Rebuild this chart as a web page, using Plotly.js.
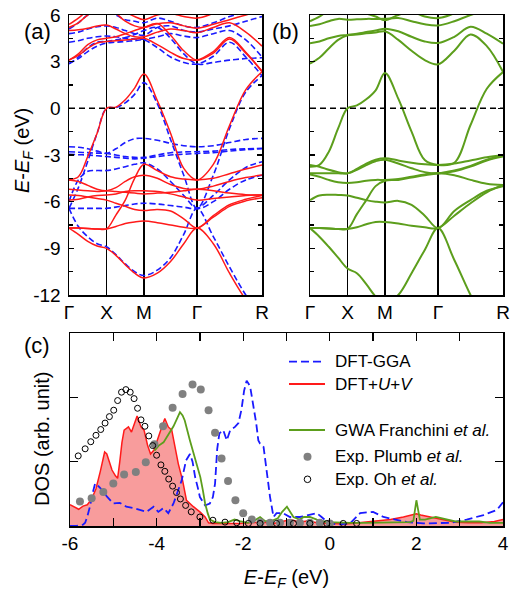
<!DOCTYPE html>
<html><head><meta charset="utf-8">
<script src="https://cdn.plot.ly/plotly-3.0.1.min.js"></script>
<style>html,body{margin:0;padding:0;background:#fff}#plot{width:511px;height:593px}</style>
</head><body><div id="plot"></div>
<script>
// ---------- band structure data ----------
const kPath = [0, 0.125, 0.25, 0.375, 0.5, 0.625, 0.75, 0.875, 1.0, 1.177, 1.354, 1.53, 1.707, 1.924, 2.14, 2.357, 2.573];
const kTickVals = [0, 0.5, 1.0, 1.707, 2.573];
const kTickText = ['Γ', 'X', 'M', 'Γ', 'R'];
const eTickVals = [-12, -9, -6, -3, 0, 3, 6];
const eTickText = ['-12', '-9', '-6', '-3', '0', '3', '6'];
const fermiLevel = 0;

const redBands = [
  [-4.6, -4.4, -3.1, -1.6, 0, 0.08, 0.55, 1.3, 2.2, 0.5, -1.6, -3.86, -4.6, -3.6, -1.1, 1.2, 2.35],
  [-7.7, -7.7, -7.72, -7.75, -7.75, -6.86, -5.9, -4.5, -3.6, -4.0, -4.4, -4.55, -4.6, -4.5, -4.2, -3.9, -3.64],
  [-4.6, -4.7, -4.95, -5.2, -5.3, -5.1, -4.7, -4.4, -4.3, -4.5, -4.9, -5.15, -5.2, -5.0, -4.7, -4.45, -4.29],
  [-5.2, -5.25, -5.3, -5.35, -5.3, -5.35, -5.4, -5.45, -5.5, -5.45, -5.4, -5.3, -5.2, -5.3, -5.45, -5.55, -5.57],
  [-5.57, -5.6, -5.7, -5.8, -5.9, -6.1, -6.3, -6.5, -6.57, -6.5, -6.6, -7.1, -7.7, -6.9, -6.2, -5.85, -5.6],
  [-5.9, -5.85, -5.7, -5.6, -5.57, -5.5, -5.35, -5.3, -5.3, -5.35, -5.5, -5.7, -5.9, -5.8, -5.7, -5.6, -5.57],
  [-7.7, -7.7, -7.72, -7.75, -7.75, -7.6, -7.4, -7.3, -7.25, -7.35, -7.5, -7.65, -7.7, -7.0, -6.3, -5.95, -5.75],
  [-7.7, -8.1, -8.55, -8.85, -9.0, -9.45, -10.05, -10.6, -10.9, -10.6, -9.85, -8.7, -7.7, -8.7, -10.6, -12.3, -13.6],
  [3.1, 3.4, 3.85, 4.2, 4.3, 4.35, 4.4, 4.45, 4.5, 4.1, 3.6, 3.2, 3.1, 3.65, 4.55, 3.6, 2.35],
  [3.1, 3.5, 4.1, 4.4, 4.5, 4.6, 4.8, 5.0, 5.2, 5.45, 4.7, 3.7, 3.1, 3.55, 4.45, 3.55, 2.4],
  [5.0, 5.05, 5.15, 5.3, 5.35, 5.1, 4.8, 4.6, 4.6, 4.9, 5.1, 5.0, 4.86, 5.2, 5.5, 4.9, 4.0],
  [5.2, 5.5, 6.0, 6.3, 6.4, 6.1, 5.6, 5.3, 5.2, 5.44, 5.5, 5.3, 5.15, 5.4, 5.7, 6.0, 6.3],
  [5.4, 5.8, 6.3, 6.6, 6.7, 6.5, 6.2, 5.9, 5.7, 6.0, 6.1, 5.9, 5.8, 6.1, 6.5, 6.8, 7.0]
];
const blueBands = [
  [-6.43, -5.1, -3.4, -1.6, 0, 0.05, 0.35, 0.9, 1.65, 0.3, -2.0, -4.3, -6.43, -4.3, -1.3, 1.05, 2.1],
  [-2.47, -2.5, -2.6, -2.75, -2.89, -2.6, -2.2, -1.95, -1.93, -2.05, -2.25, -2.4, -2.47, -2.4, -2.2, -2.0, -1.93],
  [-2.79, -2.82, -2.85, -2.88, -2.9, -3.0, -3.1, -3.15, -3.15, -3.0, -2.85, -2.8, -2.79, -2.75, -2.65, -2.6, -2.57],
  [-2.95, -2.98, -3.0, -3.05, -3.1, -3.15, -3.2, -3.25, -3.2, -3.1, -3.0, -2.95, -2.9, -2.85, -2.75, -2.65, -2.6],
  [-6.43, -6.43, -6.43, -6.43, -6.43, -6.35, -6.25, -6.15, -6.1, -6.15, -6.25, -6.35, -6.43, -5.6, -4.6, -3.8, -3.43],
  [-6.0, -4.6, -4.05, -4.0, -4.0, -3.9, -3.75, -3.6, -3.5, -3.9, -4.7, -5.6, -6.43, -6.0, -5.2, -4.6, -4.3],
  [-6.43, -7.6, -8.25, -8.7, -8.9, -9.4, -10.0, -10.5, -10.75, -10.4, -9.6, -8.1, -6.43, -8.25, -10.2, -12.0, -13.4],
  [2.87, 3.2, 3.65, 4.0, 4.2, 4.25, 4.3, 4.35, 4.4, 3.9, 3.3, 2.95, 2.85, 3.35, 4.25, 3.3, 2.1],
  [2.87, 3.3, 3.9, 4.25, 4.3, 4.4, 4.55, 4.75, 5.0, 5.2, 4.5, 3.5, 2.85, 2.95, 3.1, 3.2, 3.25],
  [4.25, 4.35, 4.5, 4.6, 4.65, 4.6, 4.5, 4.45, 4.45, 4.6, 4.8, 4.65, 4.55, 4.8, 5.0, 4.4, 3.3],
  [4.8, 4.9, 5.1, 5.25, 5.3, 5.2, 5.0, 4.8, 4.7, 5.2, 5.3, 5.0, 4.9, 5.1, 5.3, 5.6, 5.9],
  [5.1, 5.5, 6.0, 6.2, 6.3, 6.0, 5.7, 5.6, 5.5, 5.8, 5.6, 5.3, 5.2, 5.5, 5.9, 6.2, 6.5]
];
const greenBands = [
  [-3.75, -3.64, -2.8, -1.29, 0, 0.19, 0.58, 1.16, 2.27, 0.62, -1.5, -3.32, -3.64, -3.5, -1.07, 1.26, 2.33],
  [-3.64, -3.75, -3.95, -4.1, -4.18, -3.9, -3.55, -3.3, -3.21, -3.35, -3.5, -3.6, -3.64, -3.55, -3.35, -3.15, -3.0],
  [-4.18, -4.18, -4.18, -4.18, -4.18, -3.95, -3.65, -3.4, -3.3, -3.55, -3.85, -4.1, -4.18, -4.05, -3.75, -3.35, -3.1],
  [-4.25, -4.4, -4.6, -4.75, -4.8, -4.75, -4.65, -4.6, -4.6, -4.55, -4.4, -4.25, -4.18, -4.3, -4.6, -4.85, -4.93],
  [-7.7, -7.7, -7.72, -7.75, -7.75, -6.8, -5.9, -5.0, -4.65, -4.6, -4.45, -4.3, -4.18, -4.0, -3.7, -3.3, -3.05],
  [-5.9, -5.6, -5.55, -5.57, -5.6, -5.75, -5.9, -6.0, -6.05, -5.95, -6.2, -6.9, -7.7, -6.6, -5.9, -5.3, -5.0],
  [-7.7, -7.7, -7.72, -7.75, -7.75, -7.65, -7.45, -7.3, -7.3, -7.4, -7.55, -7.65, -7.7, -6.9, -6.1, -5.4, -4.93],
  [-7.7, -8.25, -8.9, -9.6, -10.3, -10.6, -11.3, -12.1, -12.6, -12.0, -10.6, -9.1, -7.7, -9.75, -12.0, -14.0, -15.0],
  [2.87, 3.25, 3.85, 4.4, 4.69, 4.75, 4.82, 4.88, 4.95, 4.4, 3.7, 3.1, 2.83, 3.7, 4.75, 4.0, 2.35],
  [4.19, 4.3, 4.5, 4.65, 4.72, 4.8, 4.9, 5.0, 5.12, 4.95, 4.6, 4.3, 4.2, 4.6, 5.25, 4.8, 4.15],
  [5.29, 5.4, 5.6, 5.75, 5.7, 5.72, 5.75, 5.75, 5.76, 5.8, 5.6, 5.4, 5.33, 5.6, 6.0, 6.3, 6.5],
  [5.6, 5.9, 6.3, 6.6, 6.7, 6.4, 6.1, 5.9, 5.67, 6.0, 6.2, 5.9, 5.8, 6.1, 6.5, 6.8, 7.0]
];

// ---------- DOS data ----------
const ggaE = [-6.0, -5.85, -5.7, -5.65, -5.6, -5.54, -5.48, -5.42, -5.36, -5.3, -5.15, -5.0, -4.85, -4.7, -4.54, -4.38, -4.23, -4.07, -3.96, -3.84, -3.73, -3.61, -3.5, -3.42, -3.32, -3.23, -3.17, -3.11, -3.05, -3.0, -2.88, -2.77, -2.7, -2.65, -2.6, -2.55, -2.46, -2.38, -2.3, -2.19, -2.11, -2.04, -1.98, -1.92, -1.84, -1.76, -1.7, -1.65, -1.61, -1.53, -1.46, -1.38, -1.3, -1.23, -1.08, -0.92, -0.69, -0.46, -0.3, -0.19, -0.07, 0.16, 0.47, 0.7, 1.0, 1.24, 1.55, 1.78, 2.16, 2.78, 3.16, 3.55, 3.86, 4.0];
const ggaDOS = [0, 0, 0.02, 0.05, 0.15, 0.3, 0.5, 0.66, 0.63, 0.59, 0.46, 0.35, 0.36, 0.3, 0.28, 0.25, 0.22, 0.3, 0.22, 0.28, 0.2, 0.35, 0.55, 0.71, 1.02, 1.12, 1.0, 0.76, 0.6, 0.45, 0.32, 0.35, 0.45, 0.66, 1.2, 1.44, 1.49, 1.33, 1.49, 1.54, 1.6, 1.81, 2.1, 2.26, 2.17, 1.86, 1.6, 1.33, 1.28, 1.23, 0.87, 0.45, 0.14, 0.2, 0.2, 0.14, 0.14, 0.17, 0.2, 0.14, 0.07, 0.02, 0.04, 0.2, 0.22, 0.14, 0.1, 0.06, 0.04, 0.05, 0.1, 0.17, 0.25, 0.37];

const uvE = [-6.0, -5.9, -5.8, -5.7, -5.6, -5.5, -5.4, -5.3, -5.2, -5.15, -5.1, -5.03, -4.95, -4.9, -4.85, -4.8, -4.75, -4.65, -4.58, -4.5, -4.45, -4.36, -4.29, -4.21, -4.14, -4.06, -3.99, -3.88, -3.81, -3.73, -3.65, -3.58, -3.5, -3.4, -3.31, -3.15, -3.0, -2.88, -2.8, -2.7, -2.5, -2.3, -2.1, -1.9, -1.7, -1.5, -1.3, -1.1, -0.9, -0.7, -0.5, -0.3, -0.1, 0.1, 0.3, 0.5, 0.8, 1.1, 1.4, 1.7, 1.9, 2.0, 2.1, 2.3, 2.5, 2.7, 2.9, 3.2, 3.5, 3.8, 4.0];
const uvDOS = [0.33, 0.30, 0.26, 0.31, 0.33, 0.42, 0.58, 0.85, 1.15, 1.12, 1.0, 0.87, 0.78, 0.74, 1.0, 1.3, 1.49, 1.54, 1.46, 1.6, 1.71, 1.54, 1.49, 1.26, 1.12, 1.18, 1.33, 1.54, 1.67, 1.54, 1.49, 1.23, 0.97, 0.71, 0.4, 0.3, 0.22, 0.14, 0.05, 0.04, 0.04, 0.03, 0.04, 0.05, 0.06, 0.06, 0.04, 0.07, 0.1, 0.06, 0.08, 0.05, 0.04, 0.03, 0.03, 0.04, 0.06, 0.08, 0.1, 0.14, 0.17, 0.19, 0.17, 0.14, 0.12, 0.08, 0.06, 0.05, 0.05, 0.07, 0.1];

const gwE = [-4.05, -3.95, -3.84, -3.72, -3.61, -3.52, -3.46, -3.4, -3.35, -3.23, -3.15, -3.07, -2.99, -2.93, -2.88, -2.82, -2.77, -2.65, -2.5, -2.35, -2.2, -2.05, -1.9, -1.75, -1.61, -1.5, -1.38, -1.2, -1.1, -0.99, -0.9, -0.84, -0.7, -0.6, -0.46, -0.3, -0.07, 0.2, 0.5, 0.8, 1.1, 1.4, 1.7, 1.85, 1.93, 2.0, 2.08, 2.2, 2.45, 2.7, 2.9, 3.2, 3.45, 3.7, 4.0];
const gwDOS = [1.17, 1.25, 1.3, 1.43, 1.55, 1.68, 1.77, 1.72, 1.64, 1.33, 1.15, 0.97, 0.76, 0.55, 0.35, 0.2, 0.1, 0.06, 0.05, 0.06, 0.1, 0.07, 0.05, 0.08, 0.14, 0.08, 0.07, 0.12, 0.22, 0.3, 0.2, 0.14, 0.1, 0.14, 0.14, 0.1, 0.06, 0.05, 0.05, 0.05, 0.05, 0.05, 0.06, 0.06, 0.08, 0.4, 0.1, 0.1, 0.14, 0.1, 0.07, 0.07, 0.07, 0.05, 0.05];

const plumbE = [-5.77, -5.5, -5.23, -5.0, -4.75, -4.48, -4.25, -4.05, -3.85, -3.63, -3.4, -3.17, -2.98, -2.8, -2.65, -2.5, -2.35, -2.18, -2.0, -1.8, -1.6, -1.38, -1.15, -0.92, -0.69, -0.46, -0.23, 0.0];
const plumbDOS = [0.38, 0.43, 0.53, 0.66, 0.8, 0.84, 0.99, 1.27, 1.55, 1.84, 2.05, 2.2, 2.12, 1.8, 1.45, 1.05, 0.7, 0.4, 0.2, 0.1, 0.06, 0.05, 0.05, 0.05, 0.05, 0.05, 0.05, 0.04];

const ohE = [-5.81, -5.65, -5.52, -5.4, -5.29, -5.19, -5.09, -4.99, -4.9, -4.81, -4.71, -4.61, -4.52, -4.44, -4.36, -4.27, -4.18, -4.09, -4.0, -3.9, -3.81, -3.72, -3.63, -3.54, -3.45, -3.33, -3.2, -3.0, -2.7, -2.42, -2.15, -1.88, -1.61, -1.23, -0.84, -0.46, -0.07, 0.31, 0.62];
const ohDOS = [1.09, 1.2, 1.31, 1.41, 1.5, 1.6, 1.7, 1.8, 1.95, 2.08, 2.12, 2.08, 1.98, 1.83, 1.65, 1.55, 1.4, 1.25, 1.1, 0.95, 0.85, 0.73, 0.62, 0.52, 0.42, 0.32, 0.22, 0.14, 0.09, 0.06, 0.05, 0.04, 0.04, 0.04, 0.04, 0.04, 0.04, 0.04, 0.04];

const dosTickVals = [-6, -4, -2, 0, 2, 4];
const dosTickText = ['-6', '-4', '-2', '0', '2', '4'];

const legendLabels = ['DFT-GGA', 'DFT+<i>U</i>+<i>V</i>', 'GWA Franchini <i>et al.</i>', 'Exp. Plumb <i>et al.</i>', 'Exp. Oh <i>et al.</i>'];
const panelLabels = ['(a)', '(b)', '(c)'];
const energyTitle = '<i>E</i>-<i>E</i><sub><i>F</i></sub> (eV)';
const dosTitle = 'DOS (arb. unit)';

// ---------- styles ----------
const RED = '#ff1a1a', BLUE = '#1a1aff', GREEN = '#5c9e1c', GRAY = '#808080', PINK = '#f89c9c';
const FONT = 'Arial, "Liberation Sans", sans-serif';

const traces = [];
blueBands.forEach(b => traces.push({x: kPath, y: b, xaxis: 'x', yaxis: 'y', mode: 'lines', hoverinfo: 'skip',
  line: {color: BLUE, width: 1.6, dash: '6px,3px', shape: 'spline', smoothing: 1}}));
redBands.forEach(b => traces.push({x: kPath, y: b, xaxis: 'x', yaxis: 'y', mode: 'lines', hoverinfo: 'skip',
  line: {color: RED, width: 1.5, shape: 'spline', smoothing: 1}}));
greenBands.forEach(b => traces.push({x: kPath, y: b, xaxis: 'x2', yaxis: 'y2', mode: 'lines', hoverinfo: 'skip',
  line: {color: GREEN, width: 2, shape: 'spline', smoothing: 1}}));

// DOS
traces.push({x: uvE, y: uvDOS, xaxis: 'x3', yaxis: 'y3', mode: 'lines', fill: 'tozeroy', fillcolor: PINK,
  line: {color: RED, width: 1.5}, hoverinfo: 'skip'});
traces.push({x: ggaE, y: ggaDOS, xaxis: 'x3', yaxis: 'y3', mode: 'lines',
  line: {color: BLUE, width: 1.8, dash: '8px,4px'}, hoverinfo: 'skip'});
traces.push({x: gwE, y: gwDOS, xaxis: 'x3', yaxis: 'y3', mode: 'lines',
  line: {color: GREEN, width: 1.8}, hoverinfo: 'skip'});
traces.push({x: plumbE, y: plumbDOS, xaxis: 'x3', yaxis: 'y3', mode: 'markers',
  marker: {color: GRAY, size: 8, line: {width: 0}}, hoverinfo: 'skip'});
traces.push({x: ohE, y: ohDOS, xaxis: 'x3', yaxis: 'y3', mode: 'markers',
  marker: {symbol: 'circle-open', color: 'black', size: 6, line: {width: 1, color: 'black'}}, hoverinfo: 'skip'});

// page geometry (plot area = 434 x 511 px)
const ML = 69, MR = 8, MT = 15, MB = 67, W = 511, H = 593;
const PW = W - ML - MR, PH = H - MT - MB;
const px = x => (x - ML) / PW;
const py = y => (H - MB - y) / PH;

const bandX = (dom) => ({
  domain: dom, range: [0, kTickVals[kTickVals.length - 1]], tickvals: kTickVals, ticktext: kTickText,
  showgrid: true, gridcolor: 'black', gridwidth: 1.5, zeroline: false, showline: true, linecolor: 'black',
  linewidth: 1.5, mirror: true, ticks: '', tickfont: {size: 19, family: FONT, color: 'black'}
});
const bandY = (anchor, showLabels) => ({
  domain: [py(295), py(15)], range: [-12, 6], tickvals: eTickVals, ticktext: eTickText, anchor: anchor,
  showticklabels: showLabels, ticks: 'inside', ticklen: 5, tickwidth: 1.3, tickcolor: 'black',
  minor: {dtick: 1.5, ticks: 'inside', ticklen: 4, tickwidth: 1.3, tickcolor: 'black'},
  showline: true, linecolor: 'black', linewidth: 1.5, mirror: 'ticks', zeroline: false, showgrid: false,
  tickfont: {size: 19, family: FONT, color: 'black'}, ticklabelstandoff: 3
});

const shapes = [
  {type: 'line', xref: 'x domain', yref: 'y', x0: 0, x1: 1, y0: fermiLevel, y1: fermiLevel, line: {color: 'black', width: 1.5, dash: '6px,4px'}},
  {type: 'line', xref: 'x2 domain', yref: 'y2', x0: 0, x1: 1, y0: fermiLevel, y1: fermiLevel, line: {color: 'black', width: 1.5, dash: '6px,4px'}}
];
const annotations = [
  {text: panelLabels[0], xref: 'paper', yref: 'paper', x: px(22), y: py(17), showarrow: false, font: {size: 22, family: FONT, color: 'black'}},
  {text: panelLabels[1], xref: 'paper', yref: 'paper', x: px(285.5), y: py(17), showarrow: false, font: {size: 22, family: FONT, color: 'black'}},
  {text: panelLabels[2], xref: 'paper', yref: 'paper', x: px(22), y: py(345), showarrow: false, font: {size: 22, family: FONT, color: 'black'}},
  {text: energyTitle, xref: 'paper', yref: 'paper', x: px(23), y: py(151), textangle: -90, showarrow: false,
    xanchor: 'center', yanchor: 'middle', font: {size: 20, family: FONT, color: 'black'}},
  {text: dosTitle, xref: 'paper', yref: 'paper', x: px(42), y: py(439), textangle: -90, showarrow: false,
    xanchor: 'center', yanchor: 'middle', font: {size: 20, family: FONT, color: 'black'}}
];

// manual legend
const legRows = [361.7, 384, 430, 456.7, 479.3];
const legStyles = [
  {kind: 'line', color: BLUE, dash: '8px,4px'},
  {kind: 'line', color: RED},
  {kind: 'line', color: GREEN},
  {kind: 'dot', fill: GRAY, r: 4},
  {kind: 'ring', r: 3.3}
];
legRows.forEach((yy, i) => {
  const s = legStyles[i];
  if (s.kind === 'line') {
    shapes.push({type: 'line', xref: 'paper', yref: 'paper', x0: px(289), x1: px(325), y0: py(yy), y1: py(yy),
      line: {color: s.color, width: 1.8, dash: s.dash || 'solid'}});
  } else {
    const cx = 307.5;
    shapes.push({type: 'circle', xref: 'paper', yref: 'paper', x0: px(cx - s.r), x1: px(cx + s.r), y0: py(yy + s.r), y1: py(yy - s.r),
      fillcolor: s.kind === 'dot' ? s.fill : 'rgba(0,0,0,0)', line: {color: s.kind === 'dot' ? s.fill : 'black', width: s.kind === 'dot' ? 0 : 1}});
  }
  annotations.push({text: legendLabels[i], xref: 'paper', yref: 'paper', x: px(333), y: py(yy), xanchor: 'left', yanchor: 'middle',
    showarrow: false, font: {size: 17, family: FONT, color: 'black'}});
});

const layout = {
  width: W, height: H, margin: {l: ML, r: MR, t: MT, b: MB}, showlegend: false,
  paper_bgcolor: 'white', plot_bgcolor: 'white', font: {family: FONT, color: 'black'},
  xaxis: Object.assign(bandX([0, px(262)]), {anchor: 'y'}),
  yaxis: bandY('x', true),
  xaxis2: Object.assign(bandX([px(310), 1]), {anchor: 'y2'}),
  yaxis2: bandY('x2', false),
  xaxis3: {domain: [px(70), 1], range: [-6, 4], anchor: 'y3', tickvals: dosTickVals, ticktext: dosTickText,
    ticks: 'inside', ticklen: 8, tickwidth: 1.3, tickcolor: 'black',
    minor: {dtick: 1, ticks: 'inside', ticklen: 8, tickwidth: 1.3, tickcolor: 'black'},
    showline: true, linecolor: 'black', linewidth: 1.5, mirror: 'ticks', zeroline: false, showgrid: false,
    tickfont: {size: 19, family: FONT, color: 'black'},
    title: {text: energyTitle, font: {size: 20, family: FONT, color: 'black'}, standoff: 16}},
  yaxis3: {domain: [0, py(333)], range: [0, 3], dtick: 1, anchor: 'x3', showticklabels: false,
    ticks: 'inside', ticklen: 8, tickwidth: 1.3, tickcolor: 'black',
    showline: true, linecolor: 'black', linewidth: 1.5, mirror: 'ticks', zeroline: false, showgrid: false},
  shapes: shapes, annotations: annotations
};

Plotly.newPlot('plot', traces, layout, {staticPlot: true, displayModeBar: false});
</script>
</body></html>
